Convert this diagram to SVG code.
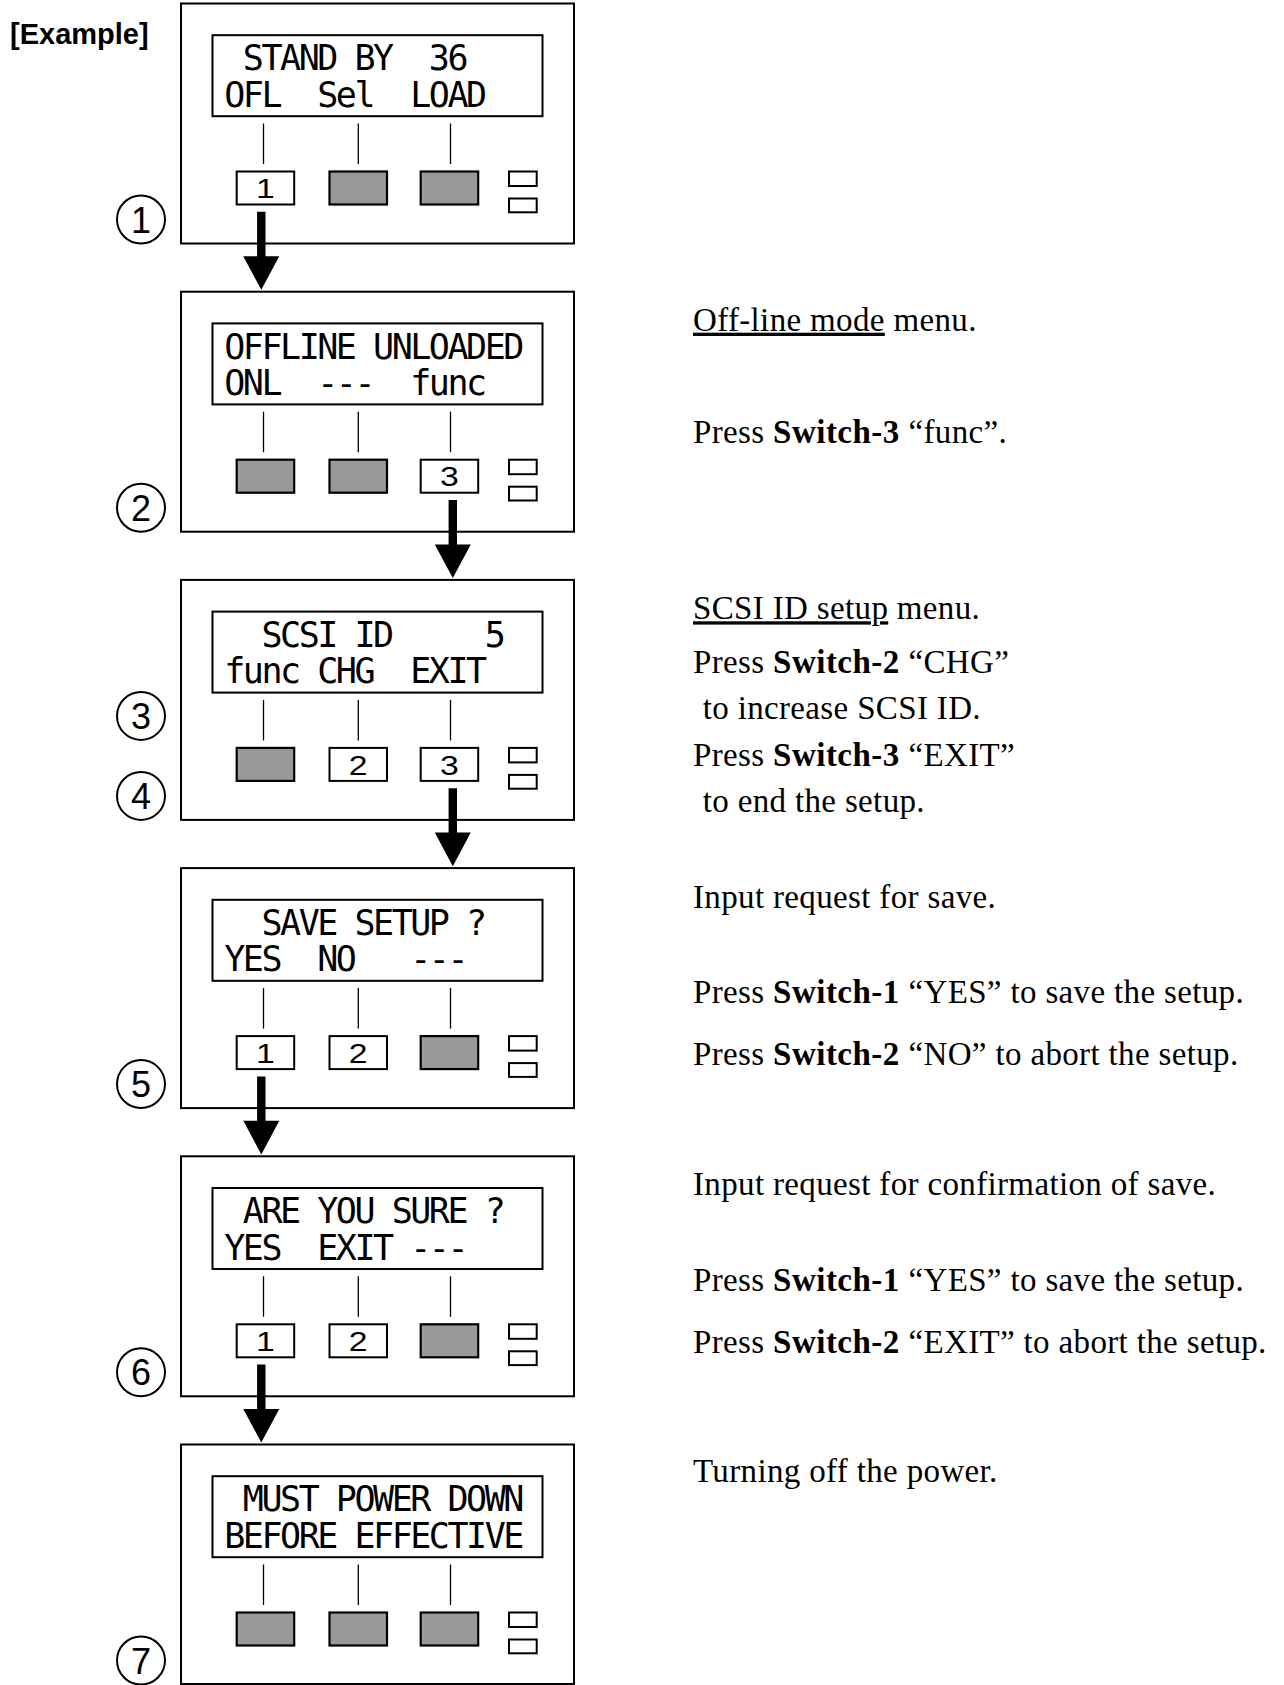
<svg xmlns="http://www.w3.org/2000/svg" width="1284" height="1685" viewBox="0 0 1284 1685">
<style>
.bg{fill:#fff}
.frame{fill:#fff;stroke:#000;stroke-width:2}
.lcd{fill:#fff;stroke:#000;stroke-width:2}
.tick{stroke:#000;stroke-width:1.3}
.off{fill:#999;stroke:#000;stroke-width:2.2}
.on{fill:#fff;stroke:#000;stroke-width:2}
.led{fill:#fff;stroke:#000;stroke-width:2}
.lcdtxt{font-family:"DejaVu Sans Mono","Liberation Mono",monospace;font-size:35px;fill:#000;text-anchor:middle;white-space:pre}
.num{font-family:"Liberation Sans",Arial,sans-serif;font-size:27px;fill:#000;text-anchor:middle}
.ring{fill:none;stroke:#000;stroke-width:2}
.stepnum{font-family:"Liberation Sans",Arial,sans-serif;font-size:36px;fill:#000;text-anchor:middle}
.desc{font-family:"Liberation Serif","Times New Roman",serif;font-size:33px;fill:#000;letter-spacing:0.35px}
.sw{font-weight:bold;letter-spacing:0.5px}
.title{font-family:"Liberation Sans",Arial,sans-serif;font-size:29px;font-weight:bold;fill:#000}
.arrow{fill:#000}
</style>
<rect class="bg" x="0" y="0" width="1284" height="1685"/>
<text id="title" class="title" x="10" y="44">[Example]</text>

<g id="panel1" transform="translate(0,3.5)">
  <rect class="frame" x="181" y="0" width="393" height="240"/>
  <rect class="lcd" x="212.5" y="31.7" width="330" height="81"/>
  <text class="lcdtxt" xml:space="preserve" x="253.4 272 290.6 309.2 327.8 346.4 365 383.6 402.2 420.8 439.4 458" y="66.9">STAND BY  36</text>
  <text class="lcdtxt" xml:space="preserve" x="234.8 253.4 272 290.6 309.2 327.8 346.4 365 383.6 402.2 420.8 439.4 458 476.6" y="103.4">OFL  Sel  LOAD</text>
  <line class="tick" x1="263.5" y1="120" x2="263.5" y2="160.5"/>
  <line class="tick" x1="358.3" y1="120" x2="358.3" y2="160.5"/>
  <line class="tick" x1="450.5" y1="120" x2="450.5" y2="160.5"/>
  <rect class="on" x="236.7" y="168" width="57.5" height="33"/>
  <text class="num" transform="scale(1.25 1)" x="212.32" y="194.8">1</text>
  <rect class="off" x="329.5" y="168" width="57.5" height="33"/>
  <rect class="off" x="420.7" y="168" width="57.5" height="33"/>
  <rect class="led" x="509" y="168" width="27.7" height="14.5"/>
  <rect class="led" x="509" y="195" width="27.7" height="13.8"/>
  <circle class="ring" cx="141" cy="216" r="24"/>
  <text class="stepnum" x="141" y="229">1</text>
</g>

<g id="panel2" transform="translate(0,291.7)">
  <rect class="frame" x="181" y="0" width="393" height="240"/>
  <rect class="lcd" x="212.5" y="31.7" width="330" height="81"/>
  <text class="lcdtxt" xml:space="preserve" x="234.8 253.4 272 290.6 309.2 327.8 346.4 365 383.6 402.2 420.8 439.4 458 476.6 495.2 513.8" y="66.9">OFFLINE UNLOADED</text>
  <text class="lcdtxt" xml:space="preserve" x="234.8 253.4 272 290.6 309.2 327.8 346.4 365 383.6 402.2 420.8 439.4 458 476.6" y="103.4">ONL  ---  func</text>
  <line class="tick" x1="263.5" y1="120" x2="263.5" y2="160.5"/>
  <line class="tick" x1="358.3" y1="120" x2="358.3" y2="160.5"/>
  <line class="tick" x1="450.5" y1="120" x2="450.5" y2="160.5"/>
  <rect class="off" x="236.7" y="168" width="57.5" height="33"/>
  <rect class="off" x="329.5" y="168" width="57.5" height="33"/>
  <rect class="on" x="420.7" y="168" width="57.5" height="33"/>
  <text class="num" transform="scale(1.25 1)" x="359.52" y="194.8">3</text>
  <rect class="led" x="509" y="168" width="27.7" height="14.5"/>
  <rect class="led" x="509" y="195" width="27.7" height="13.8"/>
  <circle class="ring" cx="141" cy="216" r="24"/>
  <text class="stepnum" x="141" y="229">2</text>
</g>

<g id="panel3" transform="translate(0,579.9)">
  <rect class="frame" x="181" y="0" width="393" height="240"/>
  <rect class="lcd" x="212.5" y="31.7" width="330" height="81"/>
  <text class="lcdtxt" xml:space="preserve" x="272 290.6 309.2 327.8 346.4 365 383.6 402.2 420.8 439.4 458 476.6 495.2" y="66.9">SCSI ID     5</text>
  <text class="lcdtxt" xml:space="preserve" x="234.8 253.4 272 290.6 309.2 327.8 346.4 365 383.6 402.2 420.8 439.4 458 476.6" y="103.4">func CHG  EXIT</text>
  <line class="tick" x1="263.5" y1="120" x2="263.5" y2="160.5"/>
  <line class="tick" x1="358.3" y1="120" x2="358.3" y2="160.5"/>
  <line class="tick" x1="450.5" y1="120" x2="450.5" y2="160.5"/>
  <rect class="off" x="236.7" y="168" width="57.5" height="33"/>
  <rect class="on" x="329.5" y="168" width="57.5" height="33"/>
  <text class="num" transform="scale(1.25 1)" x="286.56" y="194.8">2</text>
  <rect class="on" x="420.7" y="168" width="57.5" height="33"/>
  <text class="num" transform="scale(1.25 1)" x="359.52" y="194.8">3</text>
  <rect class="led" x="509" y="168" width="27.7" height="14.5"/>
  <rect class="led" x="509" y="195" width="27.7" height="13.8"/>
  <circle class="ring" cx="141" cy="136" r="24"/>
  <text class="stepnum" x="141" y="149">3</text>
  <circle class="ring" cx="141" cy="216" r="24"/>
  <text class="stepnum" x="141" y="229">4</text>
</g>

<g id="panel4" transform="translate(0,868.1)">
  <rect class="frame" x="181" y="0" width="393" height="240"/>
  <rect class="lcd" x="212.5" y="31.7" width="330" height="81"/>
  <text class="lcdtxt" xml:space="preserve" x="272 290.6 309.2 327.8 346.4 365 383.6 402.2 420.8 439.4 458 476.6" y="66.9">SAVE SETUP ?</text>
  <text class="lcdtxt" xml:space="preserve" x="234.8 253.4 272 290.6 309.2 327.8 346.4 365 383.6 402.2 420.8 439.4 458" y="103.4">YES  NO   ---</text>
  <line class="tick" x1="263.5" y1="120" x2="263.5" y2="160.5"/>
  <line class="tick" x1="358.3" y1="120" x2="358.3" y2="160.5"/>
  <line class="tick" x1="450.5" y1="120" x2="450.5" y2="160.5"/>
  <rect class="on" x="236.7" y="168" width="57.5" height="33"/>
  <text class="num" transform="scale(1.25 1)" x="212.32" y="194.8">1</text>
  <rect class="on" x="329.5" y="168" width="57.5" height="33"/>
  <text class="num" transform="scale(1.25 1)" x="286.56" y="194.8">2</text>
  <rect class="off" x="420.7" y="168" width="57.5" height="33"/>
  <rect class="led" x="509" y="168" width="27.7" height="14.5"/>
  <rect class="led" x="509" y="195" width="27.7" height="13.8"/>
  <circle class="ring" cx="141" cy="216" r="24"/>
  <text class="stepnum" x="141" y="229">5</text>
</g>

<g id="panel5" transform="translate(0,1156.3)">
  <rect class="frame" x="181" y="0" width="393" height="240"/>
  <rect class="lcd" x="212.5" y="31.7" width="330" height="81"/>
  <text class="lcdtxt" xml:space="preserve" x="253.4 272 290.6 309.2 327.8 346.4 365 383.6 402.2 420.8 439.4 458 476.6 495.2" y="66.9">ARE YOU SURE ?</text>
  <text class="lcdtxt" xml:space="preserve" x="234.8 253.4 272 290.6 309.2 327.8 346.4 365 383.6 402.2 420.8 439.4 458" y="103.4">YES  EXIT ---</text>
  <line class="tick" x1="263.5" y1="120" x2="263.5" y2="160.5"/>
  <line class="tick" x1="358.3" y1="120" x2="358.3" y2="160.5"/>
  <line class="tick" x1="450.5" y1="120" x2="450.5" y2="160.5"/>
  <rect class="on" x="236.7" y="168" width="57.5" height="33"/>
  <text class="num" transform="scale(1.25 1)" x="212.32" y="194.8">1</text>
  <rect class="on" x="329.5" y="168" width="57.5" height="33"/>
  <text class="num" transform="scale(1.25 1)" x="286.56" y="194.8">2</text>
  <rect class="off" x="420.7" y="168" width="57.5" height="33"/>
  <rect class="led" x="509" y="168" width="27.7" height="14.5"/>
  <rect class="led" x="509" y="195" width="27.7" height="13.8"/>
  <circle class="ring" cx="141" cy="216" r="24"/>
  <text class="stepnum" x="141" y="229">6</text>
</g>

<g id="panel6" transform="translate(0,1444.5)">
  <rect class="frame" x="181" y="0" width="393" height="239.5"/>
  <rect class="lcd" x="212.5" y="31.7" width="330" height="81"/>
  <text class="lcdtxt" xml:space="preserve" x="253.4 272 290.6 309.2 327.8 346.4 365 383.6 402.2 420.8 439.4 458 476.6 495.2 513.8" y="66.9">MUST POWER DOWN</text>
  <text class="lcdtxt" xml:space="preserve" x="234.8 253.4 272 290.6 309.2 327.8 346.4 365 383.6 402.2 420.8 439.4 458 476.6 495.2 513.8" y="103.4">BEFORE EFFECTIVE</text>
  <line class="tick" x1="263.5" y1="120" x2="263.5" y2="160.5"/>
  <line class="tick" x1="358.3" y1="120" x2="358.3" y2="160.5"/>
  <line class="tick" x1="450.5" y1="120" x2="450.5" y2="160.5"/>
  <rect class="off" x="236.7" y="168" width="57.5" height="33"/>
  <rect class="off" x="329.5" y="168" width="57.5" height="33"/>
  <rect class="off" x="420.7" y="168" width="57.5" height="33"/>
  <rect class="led" x="509" y="168" width="27.7" height="14.5"/>
  <rect class="led" x="509" y="195" width="27.7" height="13.8"/>
  <circle class="ring" cx="141" cy="216" r="24"/>
  <text class="stepnum" x="141" y="229">7</text>
</g>

<g id="connectors">
  <path class="arrow" d="M257.1,211.8 H265.5 V256.2 H279.3 L261.3,289.8 L243.3,256.2 H257.1 Z"/>
  <path class="arrow" d="M448.6,500 H457 V544.4 H470.8 L452.8,578 L434.8,544.4 H448.6 Z"/>
  <path class="arrow" d="M448.6,788.2 H457 V832.6 H470.8 L452.8,866.2 L434.8,832.6 H448.6 Z"/>
  <path class="arrow" d="M257.1,1076.4 H265.5 V1120.8 H279.3 L261.3,1154.4 L243.3,1120.8 H257.1 Z"/>
  <path class="arrow" d="M257.1,1364.6 H265.5 V1409 H279.3 L261.3,1442.6 L243.3,1409 H257.1 Z"/>
</g>

<g id="descriptions">
  <text class="desc" x="693" y="330.7"><tspan text-decoration="underline">Off-line mode</tspan> menu.</text>
  <text class="desc" x="693" y="442.7">Press <tspan class="sw">Switch-3</tspan> “func”.</text>
  <text class="desc" x="693" y="619.3"><tspan text-decoration="underline">SCSI ID setup</tspan> menu.</text>
  <text class="desc" x="693" y="672.7">Press <tspan class="sw">Switch-2</tspan> “CHG”</text>
  <text class="desc" x="702.7" y="719.3">to increase SCSI ID.</text>
  <text class="desc" x="693" y="766">Press <tspan class="sw">Switch-3</tspan> “EXIT”</text>
  <text class="desc" x="702.7" y="811.7">to end the setup.</text>
  <text class="desc" x="693" y="908.3">Input request for save.</text>
  <text class="desc" x="693" y="1003.3">Press <tspan class="sw">Switch-1</tspan> “YES” to save the setup.</text>
  <text class="desc" x="693" y="1065">Press <tspan class="sw">Switch-2</tspan> “NO” to abort the setup.</text>
  <text class="desc" x="693" y="1195">Input request for confirmation of save.</text>
  <text class="desc" x="693" y="1290.7">Press <tspan class="sw">Switch-1</tspan> “YES” to save the setup.</text>
  <text class="desc" x="693" y="1353.3">Press <tspan class="sw">Switch-2</tspan> “EXIT” to abort the setup.</text>
  <text class="desc" x="693" y="1482">Turning off the power.</text>
</g>
</svg>
